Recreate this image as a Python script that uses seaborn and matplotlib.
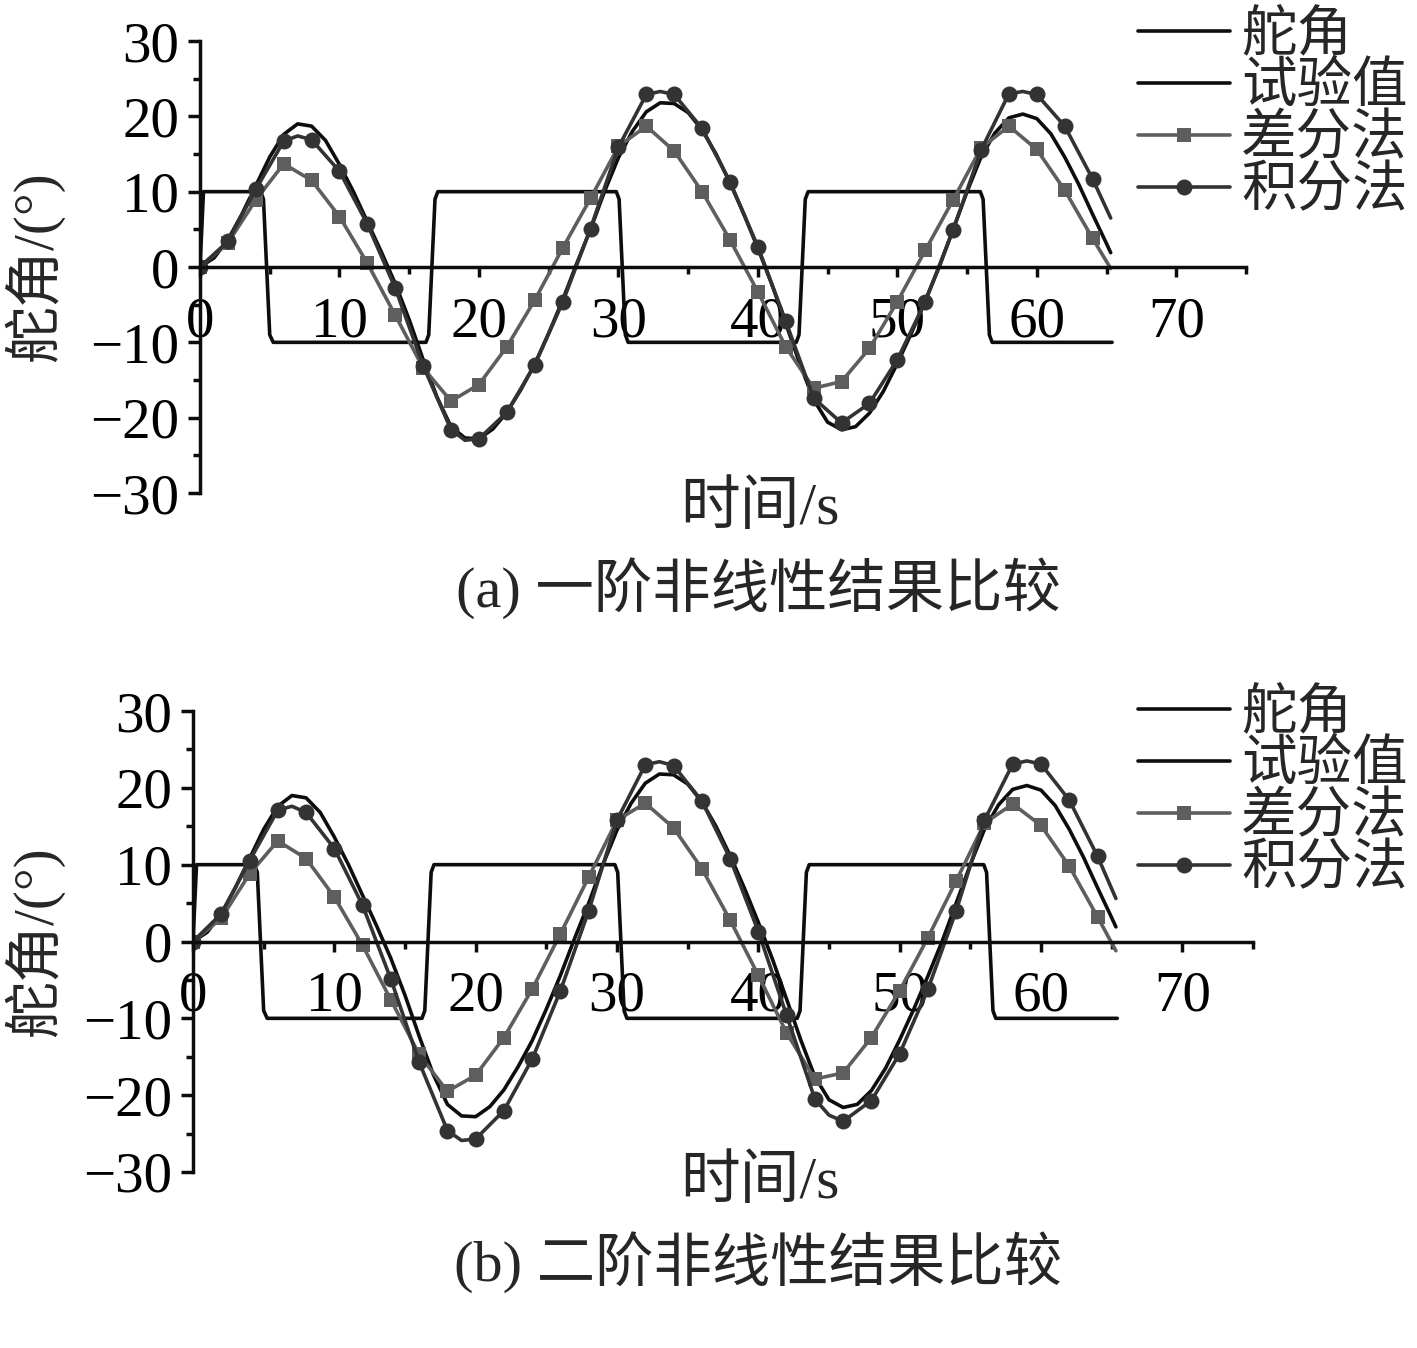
import matplotlib
matplotlib.use('Agg')
import matplotlib.pyplot as plt
import seaborn as sns
from matplotlib.ticker import MultipleLocator

sns.set_theme(style='ticks')
plt.rcParams['font.family'] = ['Liberation Serif', 'Noto Sans CJK SC']
plt.rcParams['axes.unicode_minus'] = True

# 舵角 (zig-zag 10/10)
rudder_t = [0, 0.25, 4.35, 4.55, 5.0, 5.25, 16.2, 16.4, 16.85, 17.05, 29.85, 30.05,
            30.5, 30.7, 42.75, 42.95, 43.4, 43.6, 55.95, 56.15, 56.6, 56.8, 65.4]
rudder_v = [0, 10, 10, 9, -9, -10, -10, -9, 9, 10, 10, 9,
            -9, -10, -10, -9, 9, 10, 10, 9, -9, -10, -10]

# 试验值
shiyan_t = list(range(0, 66)) + [65.3]
shiyan_v = [0, 1.2, 3.6, 7.0, 10.8, 14.6, 17.6, 19.0, 18.7, 16.8,
            13.6, 10.0, 6.0, 2.0, -2.2, -7.0, -12.3, -17.3, -21.2, -22.7,
            -22.8, -21.5, -19.3, -16.3, -12.9, -8.8, -4.4, 0.4, 5.0, 10.0,
            14.5, 18.0, 20.6, 21.8, 21.7, 20.5, 18.2, 15.0, 11.2, 7.0,
            2.5, -2.3, -7.5, -12.8, -17.6, -20.6, -21.6, -21.2, -19.4, -16.5,
            -12.8, -8.8, -4.5, 0.0, 5.0, 10.0, 14.6, 17.8, 19.8, 20.3,
            19.7, 17.7, 14.6, 11.0, 7.0, 3.1, 1.9]

# (a) 一阶
chafen_a_t = list(range(0, 66, 2)) + [65.3]
chafen_a_v = [0, 3.2, 8.9, 13.7, 11.5, 6.7, 0.5, -6.4, -13.4, -17.8, -15.6, -10.6,
              -4.4, 2.5, 9.1, 16.0, 18.7, 15.4, 10.0, 3.6, -3.3, -10.6, -16.1, -15.2,
              -10.8, -4.6, 2.2, 8.9, 15.8, 18.7, 15.6, 10.2, 3.8, -0.2]
jifen_a_t = [0, 2, 4, 6, 7, 8, 10, 12, 14, 16, 18, 19, 20, 22, 24, 26, 28, 30, 32, 33, 34,
             36, 38, 40, 42, 44, 46, 48, 50, 52, 54, 56, 58, 59, 60, 62, 64, 65.3]
jifen_a_v = [0, 3.4, 10.3, 16.7, 17.4, 16.9, 12.7, 5.7, -2.8, -13.1, -21.6, -23.0, -22.8,
             -19.3, -13.0, -4.7, 5.1, 15.9, 22.9, 23.3, 22.9, 18.4, 11.3, 2.7, -7.2, -17.4,
             -20.7, -18.1, -12.3, -4.6, 4.9, 15.5, 23.0, 23.3, 22.9, 18.7, 11.7, 6.5]

# (b) 二阶
chafen_b_t = list(range(0, 66, 2)) + [65.3]
chafen_b_v = [0, 3.0, 8.8, 13.1, 10.8, 5.8, -0.5, -7.6, -14.7, -19.5, -17.4, -12.5,
              -6.2, 1.0, 8.4, 15.8, 18.0, 14.8, 9.5, 2.8, -4.4, -11.9, -17.9, -17.1,
              -12.5, -6.4, 0.5, 7.9, 15.4, 17.9, 15.1, 9.8, 3.2, -1.2]
jifen_b_t = [0, 2, 4, 6, 7, 8, 10, 12, 14, 16, 18, 19, 20, 22, 24, 26, 28, 30, 32, 33, 34,
             36, 38, 40, 42, 44, 45, 46, 48, 50, 52, 54, 56, 58, 59, 60, 62, 64, 65.3]
jifen_b_v = [0, 3.6, 10.5, 17.1, 17.6, 16.8, 12.1, 4.7, -4.9, -15.7, -24.6, -25.9, -25.7,
             -22.0, -15.3, -6.4, 4.0, 15.8, 23.0, 23.4, 22.9, 18.3, 10.8, 1.3, -9.6, -20.5,
             -22.6, -23.4, -20.7, -14.6, -6.2, 4.0, 15.8, 23.1, 23.5, 23.1, 18.4, 11.1, 5.6]

labels = ['舵角', '试验值', '差分法', '积分法']
captions = ['(a) 一阶非线性结果比较', '(b) 二阶非线性结果比较']

fig = plt.figure(figsize=(14.17, 13.48), dpi=100)
W, H = 1417, 1348

def marks(ts):
    return [i for i, t in enumerate(ts) if t % 2 == 0 and t <= 64]

def panel(box, cha_t, cha_v, ji_t, ji_v, caption, leg_y, xl_y, cap_y):
    x0, x1, y_top, y_bot = box
    ax = fig.add_axes([x0 / W, 1 - y_bot / H, (x1 - x0) / W, (y_bot - y_top) / H])
    sns.lineplot(x=rudder_t, y=rudder_v, ax=ax, color='#0d0d0d', lw=2.6,
                 estimator=None, sort=False, label=labels[0])
    sns.lineplot(x=shiyan_t, y=shiyan_v, ax=ax, color='#0d0d0d', lw=2.6,
                 estimator=None, sort=False, label=labels[1])
    sns.lineplot(x=cha_t, y=cha_v, ax=ax, color='#5e5e5e', lw=2.6, marker='s',
                 markersize=10, markeredgewidth=0, markevery=marks(cha_t),
                 estimator=None, sort=False, label=labels[2])
    sns.lineplot(x=ji_t, y=ji_v, ax=ax, color='#333333', lw=2.6, marker='o',
                 markersize=11.5, markeredgewidth=0, markevery=marks(ji_t),
                 estimator=None, sort=False, label=labels[3])
    ax.set_xlim(0, 75)
    ax.set_ylim(-30, 30)
    ax.spines['top'].set_visible(False)
    ax.spines['right'].set_visible(False)
    ax.spines['bottom'].set_position(('data', 0))
    for s in ('left', 'bottom'):
        ax.spines[s].set_linewidth(2.5)
        ax.spines[s].set_color('#0d0d0d')
    ax.xaxis.set_major_locator(MultipleLocator(10))
    ax.xaxis.set_minor_locator(MultipleLocator(5))
    ax.yaxis.set_major_locator(MultipleLocator(10))
    ax.yaxis.set_minor_locator(MultipleLocator(5))
    ax.set_xticks(range(0, 71, 10))
    ax.tick_params(axis='both', which='both', direction='out', width=2.5,
                   color='#0d0d0d', labelsize=41, labelcolor='black')
    ax.tick_params(axis='y', which='major', length=9, pad=6)
    ax.tick_params(axis='y', which='minor', length=5)
    ax.tick_params(axis='x', which='major', length=7, pad=14)
    ax.tick_params(axis='x', which='minor', length=5)
    ax.set_facecolor('none')
    ax.set_ylabel('舵角/(°)', fontsize=41)
    ax.yaxis.set_label_coords((64 - x0) / (x1 - x0), 0.5)
    ax.set_xlabel('时间/s', fontsize=43)
    ax.xaxis.set_label_coords((760 - x0) / (x1 - x0), (y_bot - xl_y) / (y_bot - y_top))
    ax.xaxis.label.set_va('center')
    ax.legend(loc='upper left', bbox_to_anchor=(1138 / W, 1 - leg_y / H),
              bbox_transform=fig.transFigure, frameon=False, fontsize=40,
              handlelength=1.65, handletextpad=0.2, labelspacing=0.0,
              borderpad=0, borderaxespad=0)
    fig.text(758 / W, 1 - cap_y / H, caption, ha='center', va='center', fontsize=42)

panel((200, 1246, 41, 493), chafen_a_t, chafen_a_v, jifen_a_t, jifen_a_v,
      captions[0], 10, 510, 588)
panel((193, 1253, 711, 1172), chafen_b_t, chafen_b_v, jifen_b_t, jifen_b_v,
      captions[1], 688, 1184, 1262)

fig.savefig('out.png', dpi=100, facecolor='white')
